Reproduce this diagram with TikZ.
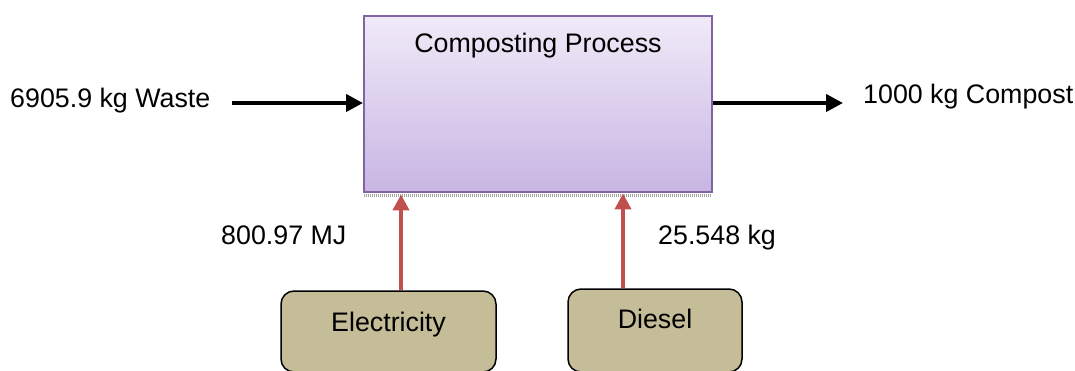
\documentclass[tikz,border=0pt]{standalone}
\usepackage{fontspec}
\setmainfont{Liberation Sans}
\usetikzlibrary{arrows.meta,calc}
\definecolor{procborder}{HTML}{8064A2}
\definecolor{proctop}{HTML}{F0EAF8}
\definecolor{procbot}{HTML}{C8B5E3}
\definecolor{srcfill}{HTML}{C4BD97}
\definecolor{redarr}{HTML}{C0504D}
\tikzset{
  lbl/.style={inner sep=0pt, anchor=base, font=\fontsize{26.8}{30}\selectfont},
  procbox/.style={rectangle, draw=procborder, line width=2pt, top color=proctop, bottom color=procbot, inner sep=0pt, minimum width=348pt, minimum height=176.5pt},
  srcbox/.style={rectangle, rounded corners=13pt, draw=black, line width=1.5pt, fill=srcfill, inner sep=0pt},
  blackarrow/.style={line width=4pt, -{Triangle[length=17pt,width=17pt]}},
  redarrow/.style={draw=redarr, line width=4.3pt, -{Triangle[length=16pt,width=16pt]}}
}
\begin{document}
\begin{tikzpicture}[x=1pt,y=-1pt]
\useasboundingbox (0,0) rectangle (1075,370);
% main process box
\node[procbox] (proc) at (538,104.2) {};
\draw[gray!70, line width=3pt, dash pattern=on 1pt off 1pt] ($(proc.south west)+(1,2.5)$) -- ($(proc.south east)+(-1,2.5)$);
\node[lbl] (title) at (538,52) {Composting Process};
% source boxes
\node[srcbox, minimum width=215pt, minimum height=81pt] (elec) at (388.5,331.5) {};
\node[srcbox, minimum width=174pt, minimum height=83pt] (dies) at (655,330.5) {};
\node[lbl] (electxt) at (388.5,331) {Electricity};
\node[lbl] (diestxt) at (655,328) {Diesel};
% side labels
\node[lbl, anchor=base west] (waste) at (10,107) {6905.9 kg Waste};
\node[lbl, anchor=base west] (compost) at (863,103) {1000 kg Compost};
\node[lbl, anchor=base west] (mj) at (221,244) {800.97 MJ};
\node[lbl, anchor=base west] (kg) at (658,244) {25.548 kg};
% connectors
\coordinate (win) at (232,103);
\coordinate (cout) at (843,103);
\coordinate (ex) at (401,0);
\coordinate (dx) at (623,0);
\draw[blackarrow] (win) -- (win -| proc.west);
\draw[blackarrow] (cout -| proc.east) -- (cout);
\draw[redarrow] (elec.north -| ex) -- ($(proc.south -| ex)+(0,1)$);
\draw[redarrow] (dies.north -| dx) -- (proc.south -| dx);
\end{tikzpicture}
\end{document}
